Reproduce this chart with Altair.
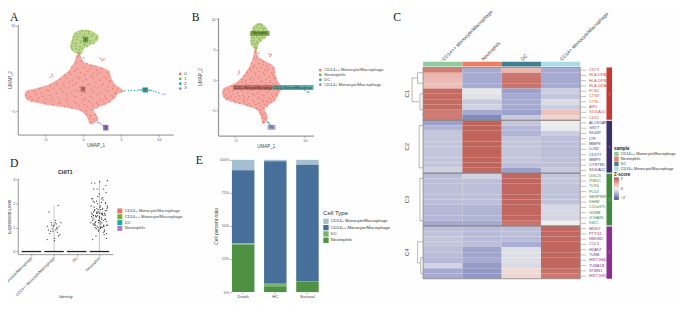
import altair as alt
import pandas as pd

SANS = "Liberation Sans"
SERIF = "Liberation Serif"

# ---------- UMAP silhouettes (row, left, right) ----------
red_y  = [5.5,4.8,3.7,3.1,2.5,2.0,1.4,0.85,0.3,-0.3,-0.85,-1.4,-2.0,-2.55,-3.1,-3.7,-4.2,-4.8,-5.65,-6.5,-7.05]
red_x1 = [-0.6,-0.85,-1.15,-1.4,-1.7,-2.0,-2.6,-3.1,-3.7,-4.6,-6.0,-7.5,-7.7,-7.6,-7.1,-5.2,-2.7,-0.5,0.35,0.7,0.8]
red_x2 = [-0.4,-0.3,0.1,1.6,2.9,3.55,3.6,3.75,3.97,4.3,4.9,5.4,4.5,4.3,3.8,3.1,2.1,1.4,1.85,2.0,1.4]
grn_y  = [9.3,8.75,8.2,7.6,7.06,6.5,5.9,5.1]
grn_x1 = [-0.3,-1.15,-1.37,-1.45,-1.6,-1.7,-1.6,-0.85]
grn_x2 = [0.77,1.6,2.05,2.05,1.6,0.77,0.1,-0.1]

red_px = [-0.5,-0.7,0.1,-0.9,-0.2,0.5,1.1,-1.5,-0.8,0.1,0.9,1.8,2.5,-1.8,-1.1,-0.3,0.6,1.4,2.2,3.2,-2.4,-1.6,-0.7,0.2,1.1,1.9,2.8,3.4,
 -3.0,-2.2,-1.4,-0.5,0.4,1.3,2.3,3.1,3.6,-3.5,-2.7,-1.8,-0.9,0.0,0.8,1.7,2.6,3.5,-4.3,-3.4,-2.5,-1.3,-0.4,0.6,1.5,2.5,3.3,4.0,
 -5.7,-4.8,-3.9,-2.9,-1.9,-1.0,0.2,1.1,2.0,3.0,3.9,4.6,-7.2,-6.4,-5.5,-4.5,-3.5,-2.6,-1.5,-0.6,0.4,1.4,2.3,3.3,4.3,5.1,
 -7.5,-6.9,-6.2,-5.3,-4.4,-3.3,-2.2,-1.2,-0.2,0.9,1.9,2.9,3.8,4.3,-7.3,-6.6,-5.8,-4.9,-4.0,-3.0,-2.0,-0.9,0.2,1.2,2.2,3.1,4.0,
 -6.8,-6.0,-5.1,-4.2,-3.2,-2.2,-1.1,-0.1,0.8,1.8,2.7,3.5,-4.9,-4.0,-3.0,-1.9,-0.9,0.2,1.1,2.0,2.8,-2.4,-1.5,-0.5,0.5,1.3,1.9,
 -0.3,0.4,1.1,0.5,1.0,1.6,0.9,1.4,1.8,1.0,1.2,2.3,2.6,2.5,2.8,-4.1,-4.0,-4.3]
red_py = [5.2,4.6,4.4,3.6,3.8,3.4,3.0,2.8,2.4,2.7,2.5,2.3,2.6,1.9,2.1,1.8,2.0,1.7,1.9,1.8,1.3,1.5,1.1,1.4,1.2,1.5,1.1,1.3,
 0.7,0.9,0.5,0.8,0.6,0.9,0.5,0.8,0.4,0.1,-0.1,0.2,0.0,0.3,-0.2,0.1,-0.1,0.2,-0.5,-0.3,-0.6,-0.4,-0.7,-0.3,-0.6,-0.4,-0.7,-0.5,
 -1.0,-1.2,-0.9,-1.1,-0.8,-1.2,-0.9,-1.1,-0.8,-1.2,-1.0,-1.1,-1.6,-1.5,-1.7,-1.4,-1.8,-1.5,-1.7,-1.4,-1.8,-1.5,-1.7,-1.4,-1.6,-1.5,
 -2.1,-2.4,-2.0,-2.3,-2.1,-2.5,-2.0,-2.3,-2.1,-2.4,-2.0,-2.3,-2.2,-1.9,-2.7,-2.9,-2.6,-2.8,-2.6,-2.9,-2.7,-2.5,-2.8,-2.6,-2.9,-2.7,-2.5,
 -3.2,-3.0,-3.3,-3.1,-3.4,-3.1,-3.3,-3.0,-3.2,-3.4,-3.1,-3.3,-3.6,-3.8,-3.5,-3.9,-3.6,-3.8,-3.5,-3.7,-3.6,-4.1,-4.3,-4.0,-4.2,-4.0,-4.3,
 -4.7,-4.9,-4.6,-5.4,-5.7,-5.5,-6.2,-6.4,-6.1,-6.9,-7.1,4.3,4.1,3.9,4.2,1.5,1.2,1.0]
grn_px = [-0.1,0.4,0.7,-0.9,-0.4,0.2,0.8,1.3,-1.2,-0.7,-0.1,0.5,1.1,1.8,-1.3,-0.8,-0.2,0.4,1.0,1.7,-1.4,-0.9,-0.3,0.3,0.9,1.4,-1.5,-1.0,-0.4,0.2,0.6,-1.4,-0.9,-0.5,-0.1,-0.7,-0.4,-0.5]
grn_py = [9.1,9.2,9.0,8.6,8.7,8.5,8.6,8.5,8.0,8.2,8.1,7.9,8.2,8.0,7.5,7.7,7.4,7.6,7.4,7.7,7.0,6.9,7.1,6.8,7.0,6.9,6.4,6.5,6.3,6.6,6.4,5.9,6.0,5.8,6.1,5.4,5.2,4.8]
teal_px = [5.5,6.0,6.4,6.8,7.2,7.5,7.7,7.8,7.9,8.0,8.1,8.2,8.3,8.4,8.5,8.6,8.8,9.0,9.3,9.6,10.0]
teal_py = [-1.4,-1.35,-1.3,-1.3,-1.25,-1.15,-1.3,-1.2,-1.0,-1.05,-1.4,-1.3,-1.0,-1.1,-1.4,-1.2,-1.25,-1.3,-1.4,-1.5,-1.7]
purp_px = [2.0,2.2,2.4,2.6,2.8,3.0,3.1,2.9,10.5,10.8]
purp_py = [-6.9,-7.0,-7.2,-7.4,-7.6,-7.8,-7.9,-8.0,-1.9,-2.0]

def xy(xs, ys, **kw):
    n = min(len(xs), len(ys))
    return pd.DataFrame(dict(x=xs[:n], y=ys[:n], **kw))

cluster_ids = ["0","1","2","3"]
cluster_cols = ["#e8766c","#7cae32","#1fa9a5","#a47fd0"]
soft_cols = ["#f4a9a2","#bcd690"]

names_b = ["CD14++ Monocyte/Macrophage","Neutrophils","DC","CD14+ Monocyte/Macrophage"]
cols_b = ["#e8766c","#7cae32","#1fa9a5","#a47fd0"]
map_b = {"0":names_b[0],"1":names_b[1],"2":names_b[3],"3":names_b[2]}

# label boxes
a_box = dict(t=["0","1","2","3"], x1=[-0.32,0.0,7.85,2.65], x2=[0.32,0.7,8.55,3.35], y1=[-1.6,7.1,-1.65,-8.3], y2=[-0.6,8.1,-0.75,-7.3], k=["0","1","2","3"])
a_box_cols = ["#bb6a60","#5f8f30","#1f8f8c","#7b58ad"]
b_box = dict(t=["CD14++ Monocyte/Macrophage","Neutrophils","CD14+ Monocyte/Macrophage","DC"], x1=[-5.33,-1.73,3.06,2.02], x2=[3.06,2.44,11.85,3.69], y1=[-1.65,7.25,-1.65,-8.16], y2=[-0.8,8.05,-0.8,-7.36],
             k=[names_b[0],names_b[1],names_b[3],names_b[2]])
b_box_cols = ["#c2645c","#6d9a35","#3aa5a0","#a58ac8"]

def umap(xdom, ydom, yrange, w, h, ids, cols, mapper, box, boxcols, legx, legy, letter, lx, ly, axw, axc, boxfont, ytitlex):
    sx = alt.Scale(domain=xdom, nice=False, zero=False)
    sy = alt.Scale(domain=ydom, nice=False, zero=False, range=yrange)
    leg = alt.Legend(orient="none", legendX=legx, legendY=legy, title=None, symbolSize=8, symbolType="circle", labelFontSize=4.3,
                     labelFont=SANS, labelColor="#444", rowPadding=0, labelOffset=2, symbolStrokeWidth=0, symbolOpacity=1)
    col = alt.Color("c:N", scale=alt.Scale(domain=ids, range=cols), legend=leg)
    xa = alt.Axis(values=[-5,0,5,10], title="UMAP_1", titleFontSize=4.6, titleFontWeight="normal", titleFont=SANS, titleColor="#444", labelFontSize=3.8, labelFont=SANS,
                  labelColor="#555", domainColor=axc, tickColor=axc, domainWidth=axw, tickWidth=axw*0.7, tickSize=2, labelPadding=1, grid=False, titlePadding=2)
    ya = alt.Axis(values=[-5,0,5,10], title="UMAP_2", titleFontSize=4.6, titleFontWeight="normal", titleFont=SANS, titleColor="#444", labelFontSize=3.8, labelFont=SANS, titleX=ytitlex,
                  labelColor="#555", domainColor=axc, tickColor=axc, domainWidth=axw, tickWidth=axw*0.7, tickSize=2, labelPadding=1, grid=False, titlePadding=2)
    sil_r = pd.DataFrame(dict(y=red_y, x=red_x1, x2=red_x2))
    sil_g = pd.DataFrame(dict(y=grn_y, x=grn_x1, x2=grn_x2))
    base_area = lambda d, colr: alt.Chart(d).mark_area(orient="horizontal", color=colr, interpolate="monotone").encode(
        y=alt.Y("y:Q", scale=sy, axis=ya), x=alt.X("x:Q", scale=sx, axis=xa), x2="x2:Q")
    pts = pd.concat([
        xy(red_px, red_py, c=mapper["0"]),
        xy(grn_px, grn_py, c=mapper["1"]),
        xy(teal_px, teal_py, c=mapper["2"]),
        xy(purp_px, purp_py, c=mapper["3"]),
    ])
    pl = alt.Chart(pts).mark_circle(size=2.4, opacity=0.9).encode(x=alt.X("x:Q", scale=sx), y=alt.Y("y:Q", scale=sy), color=col)
    bd = pd.DataFrame(box)
    br = alt.Chart(bd).mark_rect(opacity=0.85).encode(x=alt.X("x1:Q", scale=sx), x2="x2:Q", y=alt.Y("y1:Q", scale=sy), y2="y2:Q",
          color=alt.Color("k:N", scale=alt.Scale(domain=box["k"], range=boxcols), legend=None))
    bd2 = bd.assign(mx=(bd.x1+bd.x2)/2, my=(bd.y1+bd.y2)/2)
    bt = alt.Chart(bd2).mark_text(fontSize=boxfont, font=SANS, color="#333").encode(x=alt.X("mx:Q", scale=sx), y=alt.Y("my:Q", scale=sy), text="t:N")
    let = alt.Chart(pd.DataFrame(dict(t=[letter]))).mark_text(font=SERIF, fontSize=12, align="left", baseline="alphabetic", color="#222").encode(
        text="t:N", x=alt.value(lx), y=alt.value(ly))
    return alt.layer(base_area(sil_r, soft_cols[0]), base_area(sil_g, soft_cols[1]), pl, br, bt, let).resolve_scale(color="independent").properties(width=w, height=h)

A = umap([-8.6,11.9],[-9.0,10.2],[120,7],160,120,cluster_ids,cluster_cols,{k:k for k in cluster_ids},a_box,a_box_cols,165,55.5,"A",-8,3,0.7,"#555",4,-5.5)
B = umap([-8.6,11.8],[-9.1,10.2],[121,0],98,121,names_b,cols_b,map_b,b_box,b_box_cols,103,51.5,"B",-27,3,1.3,"#999",2.9,-16)

# ---------- D ----------
identities = ["CD14+ Monocyte/Macrophage","CD14++ Monocyte/Macrophage","DC","Neutrophils"]
vio_cols = ["#e8766c","#7cae32","#1fa9a5","#a47fd0"]
vio_pos = [0,1,2,3]
vio_top = [0,1.92,0,3.0]
m_off = [-0.3,-0.28,-0.22,-0.15,-0.12,-0.08,-0.03,0.0,0.03,0.05,0.08,0.1,0.14,0.18,0.22,0.26,0.3,-0.25,-0.18,-0.05,0.02,0.12,0.2,-0.1,0.15,0.07]
m_val = [0.5,1.05,1.65,0.85,1.2,0.95,1.05,1.1,0.55,1.2,0.9,1.15,0.95,1.92,1.05,0.7,1.2,0.9,0.75,0.85,0.45,1.0,0.65,1.1,0.8,1.3]
n_off = [-0.35,-0.3,-0.27,-0.24,-0.2,-0.18,-0.14,-0.1,-0.06,-0.02,0.02,0.05,0.1,0.14,0.18,0.22,0.27,0.31,0.35,-0.38,-0.33,-0.29,-0.25,-0.21,-0.17,-0.13,-0.09,-0.05,-0.01,0.03,0.07,0.11,0.15,0.19,0.24,0.28,0.33,0.37,
 -0.36,-0.31,-0.26,-0.22,-0.19,-0.15,-0.11,-0.07,-0.03,0.01,0.04,0.08,0.12,0.16,0.2,0.25,0.29,0.34,-0.34,-0.28,-0.23,-0.16,-0.12,-0.08,-0.04,0.0,0.06,0.09,0.13,0.17,0.21,0.26,0.3,0.36,
 -0.32,-0.24,-0.2,-0.14,-0.1,-0.05,-0.02,0.03,0.07,0.1,0.15,0.19,0.23,0.28,0.32,-0.3,-0.26,-0.18,-0.12,-0.06,0.0,0.05,0.11,0.16,0.22,0.27,0.33,-0.35,-0.22,-0.09,0.04,0.13,0.25,0.31,-0.27,-0.15,-0.03,0.08,0.18]
n_val = [2.85,0.5,2.1,1.1,2.85,1.5,0.95,2.6,1.75,1.3,2.9,1.0,2.2,1.6,2.6,0.85,2.0,0.55,2.95,1.2,2.2,1.4,2.6,1.7,1.1,2.1,1.5,0.9,2.4,1.85,1.05,1.55,2.25,0.8,1.35,2.75,1.8,1.1,
 1.9,1.3,1.65,2.05,1.0,1.45,1.8,2.3,1.2,1.6,0.95,1.4,1.75,2.15,1.05,1.5,2.45,1.9,1.6,1.15,1.85,1.25,1.6,2.0,0.85,1.45,1.15,2.05,1.55,1.3,0.7,1.7,1.25,1.85,
 1.55,1.35,1.75,1.45,1.05,1.65,1.3,1.9,1.0,1.35,1.8,1.1,1.6,2.05,0.75,2.2,1.5,1.2,1.65,1.0,1.4,1.75,1.2,1.5,0.9,1.35,1.7,1.45,1.15,1.6,1.25,1.0,1.55,1.1,1.5,0.65,1.3,1.6,1.05,1.4]

sxd = alt.Scale(domain=[-0.6,3.6], nice=False, zero=False)
syd = alt.Scale(domain=[-0.11,3.05], nice=False, zero=False)
lab_expr = "['CD14+ Monocyte/Macrophage','CD14++ Monocyte/Macrophage','DC','Neutrophils'][datum.value]"
dxa = alt.Axis(values=vio_pos, labelExpr=lab_expr, labelAngle=315, labelAlign="right", labelBaseline="middle", labelFontSize=3.9, labelFont=SANS, labelColor="#444", labelOverlap=False, labelBound=False, labelFlush=False,
        title="Identity", titleFontSize=4.4, titleFontWeight="normal", titleFont=SANS, titleColor="#444", domainColor="#555", tickColor="#555", domainWidth=0.6, tickWidth=0.5, tickSize=2, labelPadding=1, grid=False, titleY=42, labelLimit=90)
dya = alt.Axis(values=[0,1,2,3], title="Expression Level", titleFontSize=4.6, titleFontWeight="normal", titleFont=SANS, titleColor="#444", labelFontSize=3.8, labelFont=SANS, labelColor="#555", titleX=-6,
        domainColor="#555", tickColor="#555", domainWidth=0.6, tickWidth=0.5, tickSize=2, labelPadding=1, grid=False)
dfv = pd.DataFrame(dict(p=vio_pos, top=vio_top, k=identities, y0=[0,0,0,0], a=[p-0.43 for p in vio_pos], b=[p+0.43 for p in vio_pos]))
d_rule = alt.Chart(dfv[dfv.top>0]).mark_rule(color="#a89a92", strokeWidth=0.6).encode(
    x=alt.X("p:Q", scale=sxd, axis=dxa), y=alt.Y("y0:Q", scale=syd, axis=dya), y2="top:Q")
d_zero = alt.Chart(dfv).mark_rule(color="#222", strokeWidth=1.3).encode(x=alt.X("a:Q", scale=sxd, axis=dxa), x2="b:Q", y=alt.Y("y0:Q", scale=syd, axis=dya))
m_df = xy(m_off, m_val); n_df = xy(n_off, n_val)
dfp = pd.concat([m_df.assign(x=m_df.x+1), n_df.assign(x=n_df.x+3)])
d_pts = alt.Chart(dfp).mark_circle(size=1.6, color="#222", opacity=0.9).encode(x=alt.X("x:Q", scale=sxd, axis=dxa), y=alt.Y("y:Q", scale=syd, axis=dya))
d_leg = alt.Chart(dfv).mark_square(opacity=0, size=1).encode(x=alt.X("p:Q", scale=sxd, axis=dxa), y=alt.Y("y0:Q", scale=syd, axis=dya),
    color=alt.Color("k:N", scale=alt.Scale(domain=identities, range=vio_cols),
        legend=alt.Legend(orient="none", legendX=102, legendY=30.5, title=None, symbolType="square", symbolSize=26, symbolOpacity=1, symbolStrokeWidth=0, labelFontSize=4.2, labelFont=SANS, labelColor="#444", rowPadding=0, labelOffset=2)))
d_let = alt.Chart(pd.DataFrame(dict(t=["D"]))).mark_text(font=SERIF, fontSize=12, align="left", baseline="alphabetic", color="#222").encode(text="t:N", x=alt.value(-8), y=alt.value(-12))
d_title = alt.Chart(pd.DataFrame(dict(t=["CHIT1"]))).mark_text(font=SANS, fontSize=5.2, fontWeight="bold", color="#222").encode(text="t:N", x=alt.value(49), y=alt.value(-6))
D = alt.layer(d_rule, d_zero, d_pts, d_leg, d_let, d_title).properties(width=98, height=78)

# ---------- E ----------
groups = ["Death","HC","Survival"]
types = ["CD14+ Monocyte/Macrophage","CD14++ Monocyte/Macrophage","DC","Neutrophils"]
e_cols = ["#a4c0d0","#466f99","#76b56e","#4f9142"]
e_vals = {"Death":[7.9,55.2,0.9,36.0], "HC":[1.0,92.6,2.0,4.4], "Survival":[3.7,87.9,0.3,8.1]}
rows = []
for g in groups:
    for i,(t,v) in enumerate(zip(types,e_vals[g])):
        rows.append(dict(g=g,t=t,v=v/100,o=i))
dfe = pd.DataFrame(rows)
E_bar = alt.Chart(dfe).mark_bar().encode(
    x=alt.X("g:N", sort=groups, scale=alt.Scale(range=[14.3,103.5], paddingInner=0.3, paddingOuter=0),
        axis=alt.Axis(title=None, labelAngle=0, labelFontSize=4.3, labelFont=SANS, labelColor="#444", domain=False, tickColor="#666", tickWidth=0.5, tickSize=2, labelPadding=1)),
    y=alt.Y("v:Q", stack="zero", scale=alt.Scale(domain=[0,1], nice=False), axis=alt.Axis(values=[0,0.25,0.5,0.75,1], format=".0%", offset=-14, title="Cell percent ratio",
        titleFontSize=5, titleFontWeight="normal", titleFont=SANS, titleColor="#444", labelFontSize=3.8, labelFont=SANS, labelColor="#555", domain=False, tickColor="#666", tickWidth=0.5, tickSize=2, labelPadding=1, grid=False, titlePadding=1)),
    order=alt.Order("o:Q", sort="descending"),
    color=alt.Color("t:N", scale=alt.Scale(domain=types, range=e_cols),
        legend=alt.Legend(orient="none", legendX=108, legendY=52, title="Cell Type", titleFontSize=6.2, titleFontWeight="normal", titleFont=SANS, titleColor="#333", titlePadding=2,
            symbolType="square", symbolSize=30, symbolStrokeWidth=0, labelFontSize=4.3, labelFont=SANS, labelColor="#333", rowPadding=0.5, labelOffset=2)))
e_let = alt.Chart(pd.DataFrame(dict(t=["E"]))).mark_text(font=SERIF, fontSize=12, align="left", baseline="alphabetic", color="#222").encode(text="t:N", x=alt.value(-23), y=alt.value(4))
E = alt.layer(E_bar, e_let).properties(width=103.5, height=136)

# ---------- C ----------
columns = ["CD14++ Monocyte/Macrophage","Neutrophils","DC","CD14+ Monocyte/Macrophage"]
strip_cols = ["#8fcb9b","#ea7f63","#3f7f8f","#aadce6"]
genes = ["CST3","HLA-DPA1","HLA-DPB1","HLA-DRA","FCN1","CTSS","CTSL","AIF1","S100A10","CD52",
         "ALOX5AP","GST7","S100P","LTF","MMP8","LCN2","CD177","MMP9","CYSTM1","S100A12",
         "UGCG","ITM2C","TCF4","PLD4","SERPINF1","IGHM","C12orf75","GZMB","JCHAIN","IGKC",
         "MKI67","PTTG1","HMGB2","CCL3","H2AFZ","TUBB","HIST1H4C","TUBA1B","STMN1","HIST1H1D"]
z_c0 = [1.5,0.8,0.7,0.65,1.7,1.7,1.7,1.7,1.5,1.5, -1.1,-0.85,-0.6,-0.6,-0.6,-0.6,-0.6,-0.6,-0.6,-0.45, -0.75,-0.7,-0.7,-0.7,-0.7,-0.7,-0.8,-0.8,-0.8,-1.0, -0.7,-0.65,-0.6,-0.6,-0.7,-0.75,-0.8,-0.4,-1.0,-1.0]
z_c1 = [-1,-1,-1,-1,-0.15,-0.2,-0.55,-0.45,-1,-1.35, 1.8,1.8,1.8,1.8,1.8,1.8,1.8,1.8,1.8,1.75, -0.45,-0.7,-0.7,-0.7,-0.7,-0.7,-0.85,-0.85,-0.85,-1.0, -0.75,-0.75,-0.75,-0.7,-1.05,-1.05,-1.0,-1.15,-1.2,-1.2]
z_c2 = [0.8,1.55,1.6,1.6,-1.1,-1.0,-1.0,-1.0,-1.1,-0.55, -0.6,-0.8,-0.85,-0.6,-0.6,-0.6,-0.6,-0.6,-0.7,-1.1, 1.75,1.75,1.75,1.75,1.75,1.75,1.75,1.75,1.75,1.6, -0.7,-0.7,-0.75,-0.95,-0.25,-0.25,-0.25,-0.3,0.3,0.35]
z_c3 = [-1,-1,-1,-1,-0.5,-0.6,-0.3,-0.5,0.6,0.35, -0.05,-0.1,-0.5,-0.7,-0.7,-0.7,-0.7,-0.7,-0.7,-0.55, -0.6,-0.6,-0.65,-0.65,-0.65,-0.65,-0.35,-0.35,-0.4,0.0, 1.75,1.75,1.75,1.75,1.75,1.75,1.75,1.75,1.65,1.55]
clusters = ["C1","C2","C3","C4"]
cl_cols = ["#c23a33","#3a2f66","#3f8a3c","#8a2f8f"]
gene_cols = ["#d9534a","#4a3f7a","#3f8a3c","#8a3f90"]
dend_x1 = [-0.28,-0.28,-0.28,-0.14,-0.14,-0.14,-0.08,-0.08,-0.08,-0.03, -0.1,-0.1,-0.1, -0.08,-0.08,-0.08, -0.14,-0.14,-0.14,-0.06,-0.06,-0.06]
dend_x2 = [-0.28,-0.14,-0.10,-0.14,0,0,-0.08,0,0,0, -0.1,0,0, -0.08,0,0, -0.14,0,-0.06,-0.06,0,0]
dend_y1 = [2,2,6.5,1.0,1.0,3,5,5,8,9, 11,11,19, 21,21,29, 33,33,37,36,36,39]
dend_y2 = [6.5,2,6.5,3,1.0,3,8,5,8,9, 19,11,19, 29,21,29, 37,33,37,39,36,39]

sxc = alt.Scale(domain=[-0.636,6.344], nice=False, zero=False)
syc = alt.Scale(domain=[40,-9.38], nice=False, zero=False)
X = lambda f: alt.X(f, scale=sxc, axis=None)
Y = lambda f: alt.Y(f, scale=syc, axis=None)

hrows = []
for c,zs in enumerate([z_c0,z_c1,z_c2,z_c3]):
    for r,z in enumerate(zs):
        hrows.append(dict(x0=c,x1=c+1,y0=r,y1=r+1,z=z))
heat = alt.Chart(pd.DataFrame(hrows)).mark_rect().encode(x=X("x0:Q"),x2="x1:Q",y=Y("y0:Q"),y2="y1:Q",
    color=alt.Color("z:Q", scale=alt.Scale(domain=[-2,-1,0,1,2], range=["#3c4f9a","#a6aad0","#f2f0ef","#e8a79e","#b5524a"], interpolate="rgb"),
        legend=alt.Legend(orient="none", legendX=222, legendY=158.5, title="Z-score", titleFontSize=4.6, titleFont=SANS, titleFontWeight="bold", titleColor="#222", titlePadding=1,
            gradientLength=23, gradientThickness=5, values=[2,1,0,-1,-2], labelFontSize=3.8, labelFont=SANS, labelColor="#333", labelOffset=2, gradientStrokeWidth=0, tickCount=5)))
frame = pd.DataFrame(dict(x0=[0,0,0,0],x1=[4,4,4,4],y0=[0,10,20,30],y1=[10,20,30,40]))
frames = alt.Chart(frame).mark_rect(fillOpacity=0, stroke="#8a8480", strokeWidth=0.8).encode(x=X("x0:Q"),x2="x1:Q",y=Y("y0:Q"),y2="y1:Q")
sdf = pd.DataFrame(dict(x0=[0,1,2,3],x1=[1,2,3,4],y0=[-1.1]*4,y1=[-0.18]*4,k=columns,u=columns,m=[0.5,1.5,2.5,3.5],ty=[-1.5]*4))
strip = alt.Chart(sdf).mark_rect().encode(x=X("x0:Q"),x2="x1:Q",y=Y("y0:Q"),y2="y1:Q",
    color=alt.Color("k:N", scale=alt.Scale(domain=columns, range=strip_cols),
        legend=alt.Legend(orient="none", legendX=222, legendY=132, title="sample", titleFontSize=4.6, titleFont=SANS, titleFontWeight="bold", titleColor="#222", titlePadding=1,
            symbolType="square", symbolSize=20, symbolStrokeWidth=0, labelFontSize=4.0, labelFont=SANS, labelColor="#333", rowPadding=0, labelOffset=2)))
coltext = alt.Chart(sdf).mark_text(angle=315, align="left", baseline="middle", fontSize=5, font=SANS, color="#444").encode(x=X("m:Q"),y=Y("ty:Q"),text="u:N")
gdf = pd.DataFrame(dict(g=genes, r=[i+0.5 for i in range(40)], t0=[4.02]*40, t1=[4.15]*40, tx=[4.22]*40, cl=[clusters[i//10] for i in range(40)]))
ticks = alt.Chart(gdf).mark_rule(color="#8a8078", strokeWidth=0.5).encode(x=X("t0:Q"),x2="t1:Q",y=Y("r:Q"))
gtext = alt.Chart(gdf).mark_text(align="left", baseline="middle", fontSize=4.1, font=SANS).encode(x=X("tx:Q"),y=Y("r:Q"),text="g:N",
    color=alt.Color("cl:N", scale=alt.Scale(domain=clusters, range=gene_cols), legend=None))
bdf = pd.DataFrame(dict(x0=[4.668]*4,x1=[4.81]*4,y0=[0,10.1,20.1,30.1],y1=[9.9,19.9,29.9,40],cl=clusters,m=[5,15,25,35],lx=[-0.41]*4,bx=[4.739]*4))
bars = alt.Chart(bdf).mark_rect().encode(x=X("x0:Q"),x2="x1:Q",y=Y("y0:Q"),y2="y1:Q",
    color=alt.Color("cl:N", scale=alt.Scale(domain=clusters, range=cl_cols), legend=None))
bartext = alt.Chart(bdf).mark_text(angle=270, fontSize=2.6, font=SANS, color="#ddd").encode(x=X("bx:Q"),y=Y("m:Q"),text="cl:N")
cltext = alt.Chart(bdf).mark_text(angle=270, fontSize=6, font=SANS, color="#444").encode(x=X("lx:Q"),y=Y("m:Q"),text="cl:N")
ddf = pd.DataFrame(dict(a=dend_x1,b=dend_x2,c=dend_y1,d=dend_y2))
dend = alt.Chart(ddf).mark_rule(color="#8a8480", strokeWidth=0.6).encode(x=X("a:Q"),x2="b:Q",y=Y("c:Q"),y2="d:Q")
c_let = alt.Chart(pd.DataFrame(dict(t=["C"]))).mark_text(font=SERIF, fontSize=12, align="left", baseline="alphabetic", color="#222").encode(text="t:N", x=alt.value(-5), y=alt.value(3))
C = alt.layer(heat, frames, strip, coltext, ticks, gtext, bars, bartext, cltext, dend, c_let).resolve_scale(color="independent").properties(width=282, height=268.3)

col1 = alt.vconcat(A, D, spacing=45, bounds="flush").resolve_scale(color="independent")
col2 = alt.vconcat(B, E, spacing=25, bounds="flush").resolve_scale(color="independent")
left = alt.hconcat(col1, col2, spacing=5).resolve_scale(color="independent")
chart = alt.hconcat(left, C, spacing=3.2).resolve_scale(color="independent").properties(
    padding={"left":-15,"top":-3,"right":0,"bottom":-3}, background="#fefefe"
).configure_view(stroke=None).configure_axis(labelOverlap=False)
chart.save("out.html", embed_options={"renderer": "svg", "actions": False})
